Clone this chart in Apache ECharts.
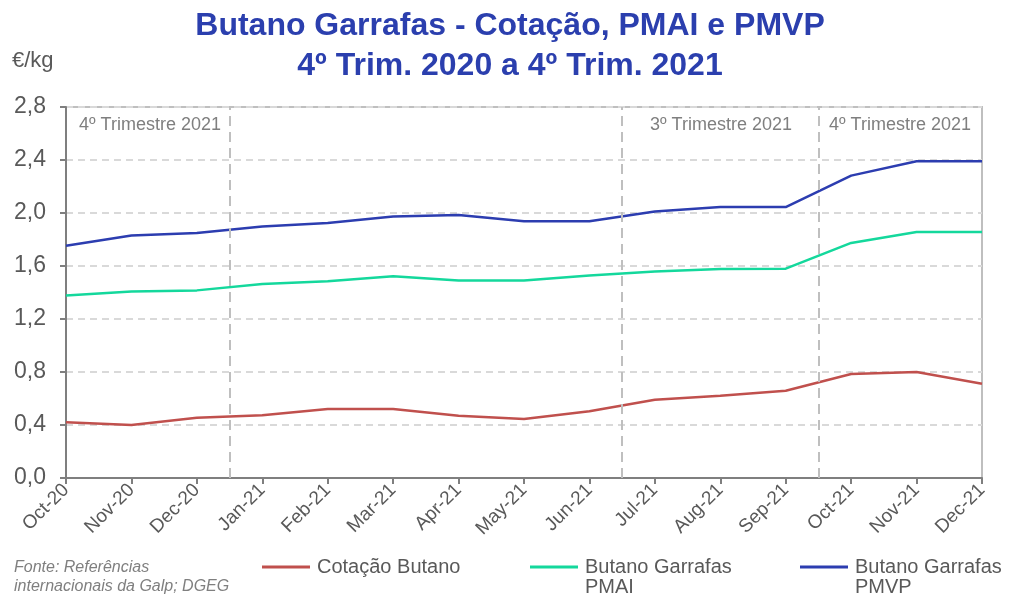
<!DOCTYPE html>
<html>
<head>
<meta charset="utf-8">
<script src="https://cdn.jsdelivr.net/npm/echarts@6/dist/echarts.min.js"></script>
<style>
  html, body { margin: 0; padding: 0; background: #fff; }
  #chart { width: 1020px; height: 598px; }
</style>
</head>
<body>
<div id="chart"></div>
<script>
const months = ['Oct-20', 'Nov-20', 'Dec-20', 'Jan-21', 'Feb-21', 'Mar-21', 'Apr-21', 'May-21',
  'Jun-21', 'Jul-21', 'Aug-21', 'Sep-21', 'Oct-21', 'Nov-21', 'Dec-21']
const cotacao = [0.42, 0.40, 0.455, 0.473, 0.521, 0.521, 0.47, 0.445, 0.503, 0.591, 0.621, 0.659, 0.785, 0.80, 0.712]
const pmai = [1.378, 1.408, 1.416, 1.464, 1.484, 1.522, 1.491, 1.491, 1.529, 1.559, 1.577, 1.58, 1.774, 1.857, 1.857]
const pmvp = [1.753, 1.831, 1.849, 1.899, 1.924, 1.974, 1.985, 1.937, 1.937, 2.012, 2.045, 2.045, 2.282, 2.39, 2.39]
const quarterBreaks = [2.5, 8.5, 11.5]
const quarterLabels = ['4º Trimestre 2021', '3º Trimestre 2021', '4º Trimestre 2021']

const font = "'Liberation Sans', Arial, sans-serif"
const grey = '#595959'

const chart = echarts.init(document.getElementById('chart'))

function legendFor(name, left, label) {
  return {
    data: [name],
    left: left,
    top: label.indexOf('\n') >= 0 ? 537 : 557,
    padding: 0,
    icon: 'rect',
    itemWidth: 48,
    itemHeight: 3,
    itemGap: 0,
    formatter: () => label,
    textStyle: { color: grey, fontSize: 20, lineHeight: 20, fontFamily: font, padding: [0, 0, 0, 2] },
  }
}

chart.setOption({
  animation: false,
  textStyle: { fontFamily: font },
  title: {
    text: 'Butano Garrafas - Cotação, PMAI e PMVP\n4º Trim. 2020 a 4º Trim. 2021',
    left: 'center',
    top: 1,
    textStyle: { color: '#2b3fae', fontSize: 32, fontWeight: 'bold', lineHeight: 40, fontFamily: font },
  },
  legend: [
    legendFor('Cotação Butano', 262, 'Cotação Butano'),
    legendFor('Butano Garrafas PMAI', 530, '\nButano Garrafas\nPMAI'),
    legendFor('Butano Garrafas PMVP', 800, '\nButano Garrafas\nPMVP'),
  ],
  grid: {
    left: 66, right: 38, top: 107, bottom: 120,
    show: true, borderColor: '#bfbfbf', borderWidth: 2,
  },
  xAxis: [
    {
      type: 'category',
      data: months,
      boundaryGap: false,
      axisLine: { lineStyle: { color: '#7f7f7f', width: 2 } },
      axisTick: { length: 6, lineStyle: { color: '#7f7f7f', width: 2 } },
      axisLabel: { rotate: 45, color: grey, fontSize: 19, margin: 9, interval: 0 },
      splitLine: { show: false },
    },
    { type: 'value', min: 0, max: 14, show: false },
  ],
  yAxis: {
    type: 'value',
    min: 0,
    max: 2.8,
    interval: 0.4,
    axisLine: { show: true, lineStyle: { color: '#7f7f7f', width: 2 } },
    axisTick: { show: true, length: 6, lineStyle: { color: '#7f7f7f', width: 2 } },
    axisLabel: { color: grey, fontSize: 23, margin: 20, formatter: v => v.toFixed(1).replace('.', ',') },
    splitLine: { lineStyle: { color: '#d9d9d9', width: 2, type: [7, 5] } },
  },
  graphic: [
    { type: 'text', left: 12, top: 50, style: { text: '€/kg', fill: grey, font: '22px ' + font } },
    { type: 'text', left: 79, top: 116, style: { text: quarterLabels[0], fill: '#7f7f7f', font: '18px ' + font } },
    { type: 'text', left: 650, top: 116, style: { text: quarterLabels[1], fill: '#7f7f7f', font: '18px ' + font } },
    { type: 'text', left: 829, top: 116, style: { text: quarterLabels[2], fill: '#7f7f7f', font: '18px ' + font } },
    {
      type: 'text', left: 14, top: 558,
      style: { text: 'Fonte: Referências\ninternacionais da Galp; DGEG', fill: '#7f7f7f', font: 'italic 16px ' + font, lineHeight: 19 },
    },
  ],
  series: [
    {
      name: 'Cotação Butano', type: 'line', data: cotacao, showSymbol: false,
      lineStyle: { color: '#c0504d', width: 2.5 }, itemStyle: { color: '#c0504d' },
    },
    {
      name: 'Butano Garrafas PMAI', type: 'line', data: pmai, showSymbol: false,
      lineStyle: { color: '#14d89c', width: 2.5 }, itemStyle: { color: '#14d89c' },
    },
    {
      name: 'Butano Garrafas PMVP', type: 'line', data: pmvp, showSymbol: false,
      lineStyle: { color: '#2c3db0', width: 2.5 }, itemStyle: { color: '#2c3db0' },
    },
    {
      type: 'line', xAxisIndex: 1, data: [], silent: true,
      markLine: {
        symbol: 'none',
        silent: true,
        label: { show: false },
        lineStyle: { color: '#bfbfbf', width: 2, type: [10, 6] },
        data: quarterBreaks.map(x => ({ xAxis: x })),
      },
    },
  ],
})
</script>
</body>
</html>
